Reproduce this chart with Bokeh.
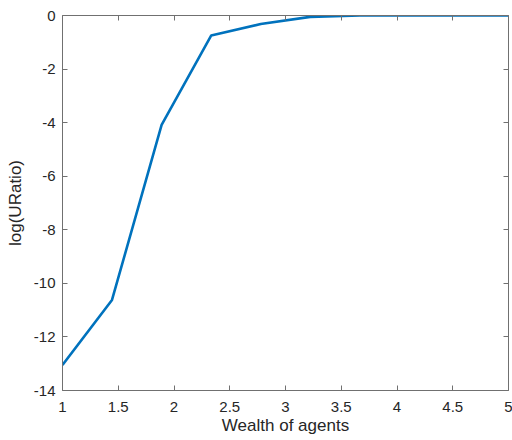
from bokeh.plotting import figure
from bokeh.models import LinearAxis, Range1d, FixedTicker, CustomLabelingPolicy, CustomJSTickFormatter
from bokeh.embed import file_html
from bokeh.resources import INLINE

wealth = [1.0, 1.444, 1.889, 2.333, 2.778, 3.222, 3.667, 4.111, 4.556, 5.0]
log_uratio = [-13.05, -10.62, -4.08, -0.75, -0.32, -0.05, 0.0, 0.0, 0.0, 0.0]
x_ticks = [1, 1.5, 2, 2.5, 3, 3.5, 4, 4.5, 5]
y_ticks = [0, -2, -4, -6, -8, -10, -12, -14]

FONT = "Liberation Sans"
AX = "#707070"
TXT = "#262626"

p = figure(width=512, height=440, output_backend="svg", toolbar_location=None,
           x_range=Range1d(1, 5), y_range=Range1d(-14, 0),
           min_border_left=62, min_border_right=4, min_border_top=15, min_border_bottom=50)
p.grid.visible = False
p.outline_line_color = None
p.background_fill_color = "white"
p.border_fill_color = "white"

p.line(wealth, log_uratio, line_color="#0072BD", line_width=2.6)

def style(ax, ticks, labels=True):
    ax.ticker = FixedTicker(ticks=ticks)
    ax.formatter = CustomJSTickFormatter(code="return String(tick)")
    ax.axis_line_color = AX
    ax.major_tick_line_color = AX
    ax.major_tick_in = 5
    ax.major_tick_out = 0
    ax.minor_tick_line_color = None
    ax.major_label_text_font = FONT
    ax.major_label_text_font_size = "15px"
    ax.major_label_text_color = TXT
    ax.axis_label_text_font = FONT
    ax.axis_label_text_font_size = "17px"
    ax.axis_label_text_font_style = "normal"
    ax.axis_label_text_color = TXT
    if not labels:
        ax.major_label_policy = CustomLabelingPolicy(code="for (const i of indices) { if (false) yield i }")
        ax.major_label_text_font_size = "0px"
        ax.major_label_standoff = 0

xa = p.xaxis[0]
style(xa, x_ticks)
xa.axis_label = "Wealth of agents"
xa.major_label_standoff = 11
xa.axis_label_standoff = 1

ya = p.yaxis[0]
style(ya, y_ticks)
ya.axis_label = "log(URatio)"
ya.major_label_standoff = 7
ya.axis_label_standoff = 6

top = LinearAxis()
style(top, x_ticks, labels=False)
p.add_layout(top, "above")
right = LinearAxis()
style(right, y_ticks, labels=False)
p.add_layout(right, "right")

open("out.html", "w").write(file_html(p, INLINE))
